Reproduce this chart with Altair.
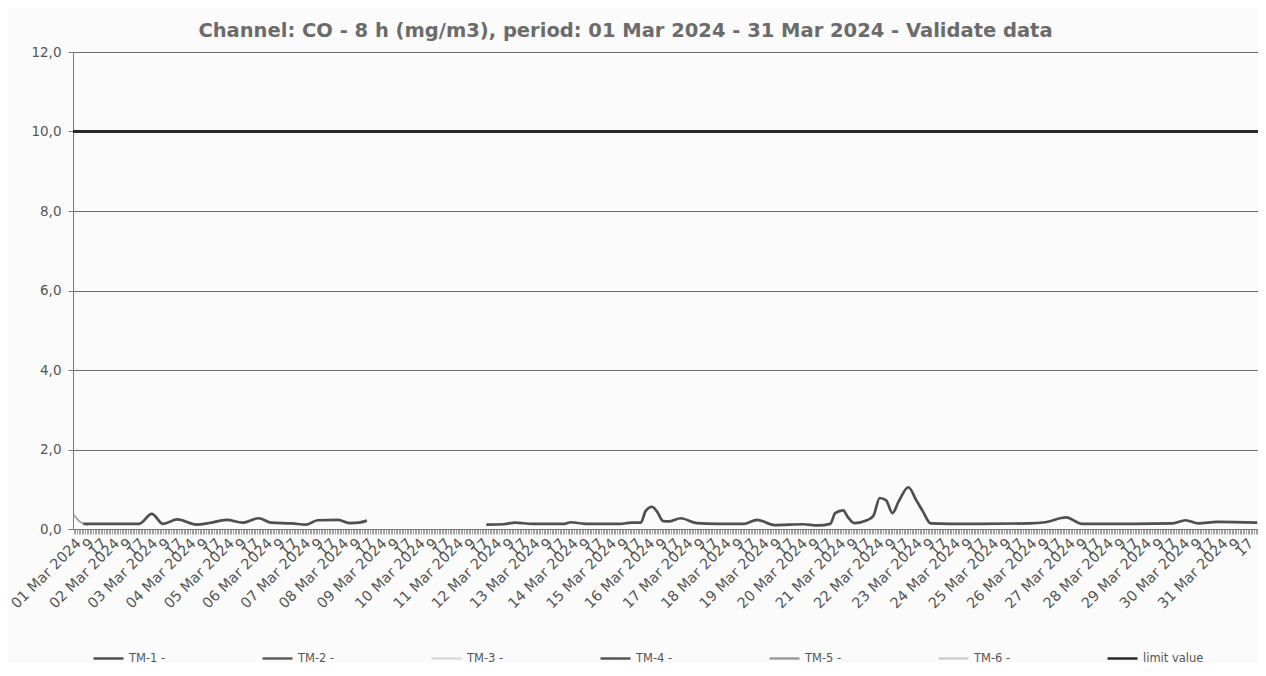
import json
import altair as alt
import pandas as pd

# ---------------- data ----------------
series_names = ["TM-1 -", "TM-2 -", "TM-3 -", "TM-4 -", "TM-5 -", "TM-6 -", "limit value"]
series_colors = ["#4f4f4f", "#5e5e5e", "#d9d9d9", "#555555", "#9b9b9b", "#cdcdcd", "#2a2a2a"]

day_labels = [f"{d:02d} Mar 2024" for d in range(1, 32)]
hour_labels = ["9", "17"]
y_ticks = [0, 2, 4, 6, 8, 10, 12]
limit_value = 10.0

# TM-1: hour index (from 01 Mar 2024 01:00) and 8-h CO value (mg/m3), first segment
tm1_a_hours = [6, 41, 49, 56, 65, 77, 85, 96, 106, 116, 124, 137, 146, 153, 166, 173, 179, 184]
tm1_a_values = [0.13, 0.13, 0.38, 0.13, 0.24, 0.11, 0.15, 0.23, 0.16, 0.27, 0.16, 0.14, 0.11,
                0.22, 0.23, 0.15, 0.16, 0.21]
# TM-1: second segment (after the gap)
tm1_b_hours = [259, 270, 277, 288, 308, 312, 321, 343, 350, 356,
               359, 363, 366, 370, 374, 381, 391, 404, 421, 429,
               440, 458, 467, 475, 478, 483, 486, 490, 498, 502,
               506, 510, 514, 518, 524, 529, 533, 538, 550, 568,
               600, 610, 623, 633, 666, 690, 698, 706, 718, 743]
tm1_b_values = [0.11, 0.12, 0.16, 0.13, 0.13, 0.17, 0.13, 0.13, 0.16, 0.16,
                0.45, 0.56, 0.45, 0.20, 0.19, 0.27, 0.15, 0.13, 0.13, 0.23,
                0.10, 0.12, 0.09, 0.13, 0.40, 0.47, 0.30, 0.15, 0.22, 0.33,
                0.78, 0.72, 0.40, 0.70, 1.05, 0.72, 0.45, 0.14, 0.13, 0.13,
                0.14, 0.17, 0.29, 0.13, 0.13, 0.14, 0.22, 0.14, 0.18, 0.16]
# TM-5: short visible piece at the start
tm5_hours = [0, 4, 9]
tm5_values = [0.36, 0.18, 0.10]

# ---------------- tables ----------------
rows = []
for seg, hs, vs in [("a", tm1_a_hours, tm1_a_values), ("b", tm1_b_hours, tm1_b_values)]:
    for h, v in zip(hs, vs):
        rows.append({"series": "TM-1 -", "seg": seg, "hour": h, "value": v})
tm1_df = pd.DataFrame(rows)
tm5_df = pd.DataFrame({"series": "TM-5 -", "seg": "c", "hour": tm5_hours, "value": tm5_values})
limit_df = pd.DataFrame({"series": ["limit value"], "value": [limit_value]})

color_scale = alt.Scale(domain=series_names, range=series_colors)

x_label_expr = (
    f"datum.value % 24 == 0 ? {json.dumps(day_labels)}[floor(datum.value / 24)] : "
    f"datum.value % 24 == 8 ? '{hour_labels[0]}' : "
    f"datum.value % 24 == 16 ? '{hour_labels[1]}' : ''"
)

x_enc = alt.X(
    "hour:Q",
    scale=alt.Scale(domain=[-0.5, 743.5], nice=False, zero=False),
    axis=alt.Axis(
        values=list(range(744)),
        tickCount=1000,
        labelExpr=x_label_expr,
        labelAngle=-45,
        labelOverlap=False,
        labelFlush=False,
        grid=False,
        tickSize=5,
        tickColor="#8a8a8a",
        tickWidth=0.8,
        domainColor="#7a7a7a",
        labelFont="DejaVu Sans",
        labelFontSize=14.5,
        labelColor="#555555",
        labelPadding=2,
        title=None,
    ),
)
y_enc = alt.Y(
    "value:Q",
    scale=alt.Scale(domain=[0, 12], nice=False, zero=True),
    axis=alt.Axis(
        values=y_ticks,
        labelExpr="replace(format(datum.value, '.1f'), '.', ',')",
        grid=True,
        gridColor="#6e6e6e",
        gridWidth=1,
        tickSize=5,
        tickColor="#7a7a7a",
        domainColor="#7a7a7a",
        labelFont="DejaVu Sans",
        labelFontSize=13.5,
        labelColor="#555555",
        labelPadding=7,
        title=None,
    ),
)

legend = alt.Legend(
    title=None,
    orient="none",
    legendX=19,
    legendY=590,
    direction="horizontal",
    columns=7,
    gridAlign="all",
    columnPadding=67,
    symbolType="stroke",
    symbolSize=900,
    symbolStrokeWidth=2.5,
    labelFont="DejaVu Sans",
    labelFontSize=11.5,
    labelColor="#555555",
    labelOffset=4,
    padding=0,
)

tm1 = alt.Chart(tm1_df).mark_line(interpolate="monotone", strokeWidth=2.7).encode(
    x=x_enc,
    y=y_enc,
    color=alt.Color("series:N", scale=color_scale, legend=legend),
    detail="seg:N",
)
tm5 = alt.Chart(tm5_df).mark_line(interpolate="monotone", strokeWidth=1.6).encode(
    x=alt.X("hour:Q"),
    y=alt.Y("value:Q"),
    color=alt.Color("series:N", scale=color_scale),
    detail="seg:N",
)
limit = alt.Chart(limit_df).mark_rule(strokeWidth=3).encode(
    y=alt.Y("value:Q"),
    color=alt.Color("series:N", scale=color_scale),
)

chart = (
    alt.layer(tm5, tm1, limit)
    .properties(
        width=1185,
        height=477,
        background="#fbfbfb",
        autosize=alt.AutoSizeParams(type="none"),
        padding={"left": 65, "top": 44, "right": 0, "bottom": 134},
        title=alt.TitleParams(
            text="Channel: CO - 8 h (mg/m3), period: 01 Mar 2024 - 31 Mar 2024 - Validate data",
            font="DejaVu Sans",
            fontSize=19.5,
            fontWeight="bold",
            color="#6b6b6b",
            anchor="middle",
            dx=-40,
            offset=4,
        ),
    )
    .configure_view(stroke="#8a8a8a", strokeWidth=1)
)

chart.save("out.html", embed_options={"renderer": "svg", "actions": False})
